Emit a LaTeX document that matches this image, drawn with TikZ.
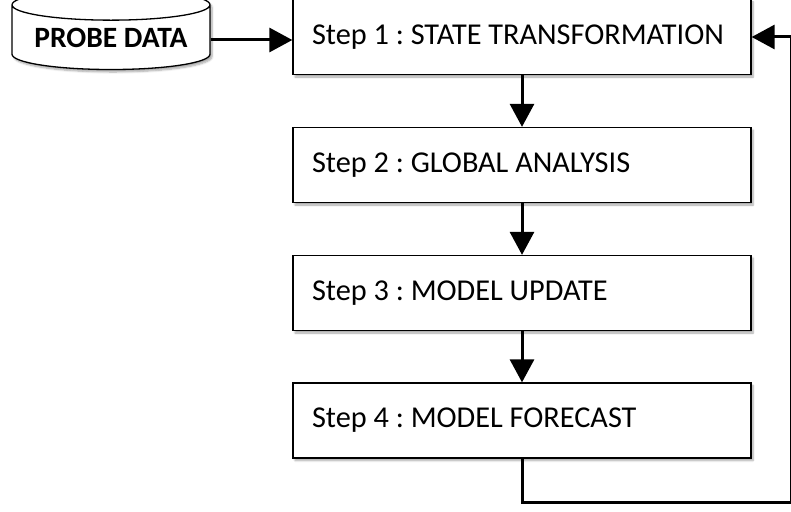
\documentclass[tikz,border=0pt]{standalone}
\usepackage{fontspec}
\setmainfont{Carlito}
\usetikzlibrary{arrows.meta,shapes.geometric,shadows.blur}
\begin{document}
\frenchspacing
\begin{tikzpicture}[x=1pt,y=1pt]
	\tikzstyle{stepbox}=[draw, line width=1.3pt, fill=white, text width=420pt, inner xsep=19pt, inner ysep=0pt, minimum height=75pt, align=flush left, font=\fontsize{30.3}{33}\selectfont, blur shadow={shadow xshift=2pt, shadow yshift=-2.5pt, shadow blur steps=6, shadow opacity=35}]
	\tikzstyle{store}=[draw, line width=1.3pt, fill=white, cylinder, shape border rotate=90, aspect=0.2, minimum width=198pt, minimum height=80pt, inner sep=0pt, font=\bfseries\fontsize{29.5}{32}\selectfont, blur shadow={shadow xshift=2pt, shadow yshift=-2.5pt, shadow blur steps=6, shadow opacity=35}]
	\tikzstyle{flow}=[line width=3pt, -{Triangle[width=24pt,length=23pt]}]
	\useasboundingbox (0,0) rectangle (791,-511);
	\node [store] (probe) at (111,-37.5) {PROBE DATA};
	\node [stepbox] (s1) at (522,-37) {Step 1 : STATE TRANSFORMATION};
	\node [stepbox] (s2) at (522,-165) {Step 2 : GLOBAL ANALYSIS};
	\node [stepbox] (s3) at (522,-293) {Step 3 : MODEL UPDATE};
	\node [stepbox] (s4) at (522,-420.5) {Step 4 : MODEL FORECAST};
	\coordinate (loop) at (791,-502);
	\draw [flow] (probe.east |- 0,-40) -- (s1.west |- 0,-40);
	\draw [flow] (s1) -- (s2);
	\draw [flow] (s2) -- (s3);
	\draw [flow] (s3) -- (s4);
	\draw [flow] (s4.south) |- (loop) |- (s1.east);
\end{tikzpicture}
\end{document}
